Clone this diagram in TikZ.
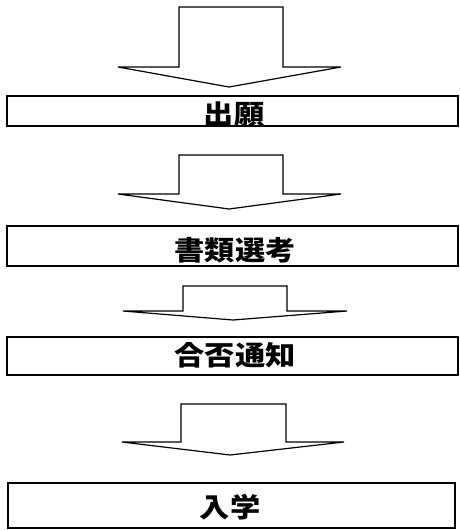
\documentclass[tikz,border=0pt]{standalone}
\usepackage{fontspec}
\newfontfamily\cjk{Noto Sans CJK JP}
\begin{document}
\begin{tikzpicture}[x=1pt,y=-1pt,
  stepbox/.style={draw=black,line width=1.3pt,rectangle,inner sep=0pt},
  steptext/.style={font=\cjk\bfseries\fontsize{27}{30}\selectfont,inner sep=0pt,xscale=1.12},
  flowarrow/.style={draw=black,fill=white,line width=1.2pt,line join=miter}]
\useasboundingbox (0,0) rectangle (459,530);
% arrows
\draw[flowarrow] (179,7) -- (283,7) -- (283,67) -- (341,67) -- (229,87) -- (118,67) -- (179,67) -- cycle;
\draw[flowarrow] (179,155) -- (283,155) -- (283,194) -- (341,194) -- (229,209) -- (118,194) -- (179,194) -- cycle;
\draw[flowarrow] (183,286) -- (287,286) -- (287,311) -- (347,311) -- (233,320) -- (123,311) -- (183,311) -- cycle;
\draw[flowarrow] (181,404) -- (286,404) -- (286,442) -- (344,442) -- (230,455) -- (122,442) -- (181,442) -- cycle;
% boxes
\node[stepbox,minimum width=451pt,minimum height=30pt] (b1) at (232.5,111) {};
\node[stepbox,minimum width=451pt,minimum height=40pt] (b2) at (232.5,246) {};
\node[stepbox,minimum width=451pt,minimum height=38pt] (b3) at (232.5,356) {};
\node[stepbox,minimum width=447pt,minimum height=45pt] (b4) at (231.5,505.5) {};
% texts
\node[steptext] (t1) at (234,114) {出願};
\node[steptext] (t2) at (235,250) {書類選考};
\node[steptext] (t3) at (235,355) {合否通知};
\node[steptext] (t4) at (230,507) {入学};
\end{tikzpicture}
\end{document}
